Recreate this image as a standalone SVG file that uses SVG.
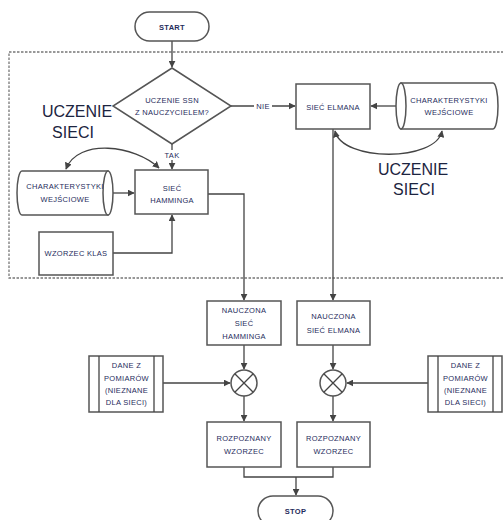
<svg xmlns="http://www.w3.org/2000/svg" width="503" height="520" viewBox="0 0 503 520">
<style>
.bx{fill:#fff;stroke:#555;stroke-width:1.5}
.ln{fill:none;stroke:#444;stroke-width:1.3}
.t{font-family:"Liberation Sans",Arial,sans-serif;font-size:7.5px;fill:#1f2c5c;text-anchor:middle;letter-spacing:0.3px}
.big{font-family:"Liberation Sans",Arial,sans-serif;font-size:16px;fill:#1c2440;text-anchor:middle}
</style>
<defs>
<marker id="ah" viewBox="0 0 10 10" refX="9" refY="5" markerWidth="7" markerHeight="7" markerUnits="userSpaceOnUse" orient="auto-start-reverse">
<path d="M0,0 L10,5 L0,10 Z" fill="#444"/>
</marker>
</defs>
<rect x="9" y="52" width="500" height="226" fill="none" stroke="#777" stroke-width="1.3" stroke-dasharray="2.5,1.5"/>
<g id="connectors">
<path class="ln" d="M172,41 V67" marker-end="url(#ah)"/>
<path class="ln" d="M172,144 V169" marker-end="url(#ah)"/>
<path class="ln" d="M231,106 H295" marker-end="url(#ah)"/>
<path class="ln" d="M403,106 H371" marker-end="url(#ah)"/>
<path class="ln" d="M335,131 C342,162 436,162 442,131" marker-start="url(#ah)" marker-end="url(#ah)"/>
<path class="ln" d="M66,169 C78,138 135,145 159,168" marker-start="url(#ah)" marker-end="url(#ah)"/>
<path class="ln" d="M111,193 H134" marker-end="url(#ah)"/>
<path class="ln" d="M113,253 H172 V215" marker-end="url(#ah)"/>
<path class="ln" d="M208,194 H244 V300" marker-end="url(#ah)"/>
<path class="ln" d="M333,129 V300" marker-end="url(#ah)"/>
<path class="ln" d="M244,345 V369" marker-end="url(#ah)"/>
<path class="ln" d="M333,345 V369" marker-end="url(#ah)"/>
<path class="ln" d="M163,383 H230" marker-end="url(#ah)"/>
<path class="ln" d="M428,383 H347" marker-end="url(#ah)"/>
<path class="ln" d="M244,396 V421" marker-end="url(#ah)"/>
<path class="ln" d="M333,396 V421" marker-end="url(#ah)"/>
<path class="ln" d="M244,467 V477 H333 V467"/>
<path class="ln" d="M296,477 V495" marker-end="url(#ah)"/>
<rect x="254" y="101" width="18" height="10" fill="#fff"/>
<text class="t" x="263" y="108.7">NIE</text>
<rect x="162" y="150" width="20" height="10" fill="#fff"/>
<text class="t" x="172" y="157.7">TAK</text>
</g>
<g id="start">
<rect class="bx" x="135" y="12" width="74" height="29" rx="14.5"/>
<text class="t" x="172" y="29.7" font-weight="bold">START</text>
</g>
<g id="decision">
<path class="bx" d="M172,68 L231,106 L172,144 L113,106 Z"/>
<text class="t" x="172" y="102.7">UCZENIE SSN</text>
<text class="t" x="172" y="114.7">Z NAUCZYCIELEM?</text>
</g>
<g id="label-left">
<text class="big" x="77" y="117">UCZENIE</text>
<text class="big" x="73" y="138">SIECI</text>
</g>
<g id="label-right">
<text class="big" x="413" y="175">UCZENIE</text>
<text class="big" x="414" y="195">SIECI</text>
</g>
<g id="elman">
<rect class="bx" x="296" y="84" width="74" height="45"/>
<text class="t" x="333" y="109.7">SIEĆ ELMANA</text>
</g>
<g id="char-right">
<path class="bx" d="M401,83 H493 A5,23 0 0 1 493,129 H401 Z"/>
<ellipse class="bx" cx="401" cy="106" rx="5" ry="23"/>
<text class="t" x="449" y="102.7">CHARAKTERYSTYKI</text>
<text class="t" x="449" y="114.7">WEJŚCIOWE</text>
</g>
<g id="char-left">
<path class="bx" d="M22,171 H108 V215 H22 A5,22 0 0 1 22,171 Z"/>
<ellipse class="bx" cx="108" cy="193" rx="5" ry="22"/>
<text class="t" x="65" y="188.7">CHARAKTERYSTYKI</text>
<text class="t" x="65" y="201.7">WEJŚCIOWE</text>
</g>
<g id="hamming">
<rect class="bx" x="135" y="170" width="73" height="44"/>
<text class="t" x="172" y="190.7">SIEĆ</text>
<text class="t" x="172" y="202.7">HAMMINGA</text>
</g>
<g id="wzorzec-klas">
<rect class="bx" x="39" y="232" width="74" height="43"/>
<text class="t" x="76" y="255.7">WZORZEC KLAS</text>
</g>
<g id="nauczona-hamming">
<rect class="bx" x="207" y="301" width="74" height="44"/>
<text class="t" x="244" y="312.7">NAUCZONA</text>
<text class="t" x="244" y="325.7">SIEĆ</text>
<text class="t" x="244" y="338.7">HAMMINGA</text>
</g>
<g id="nauczona-elman">
<rect class="bx" x="297" y="301" width="73" height="44"/>
<text class="t" x="333.5" y="318.7">NAUCZONA</text>
<text class="t" x="333.5" y="332.7">SIEĆ ELMANA</text>
</g>
<g id="mix-left">
<circle class="bx" cx="244" cy="383" r="13"/>
<path class="ln" d="M234.8,373.8 L253.2,392.2 M253.2,373.8 L234.8,392.2" stroke="#555"/>
</g>
<g id="mix-right">
<circle class="bx" cx="333" cy="383" r="13"/>
<path class="ln" d="M323.8,373.8 L342.2,392.2 M342.2,373.8 L323.8,392.2" stroke="#555"/>
</g>
<g id="dane-left">
<rect class="bx" x="89" y="356" width="74" height="56"/>
<path class="ln" d="M99,356 V412 M154,356 V412" stroke="#555"/>
<text class="t" x="126.5" y="367.7">DANE Z</text>
<text class="t" x="126.5" y="380.7">POMIARÓW</text>
<text class="t" x="126.5" y="392.7">(NIEZNANE</text>
<text class="t" x="126.5" y="404.7">DLA SIECI)</text>
</g>
<g id="dane-right">
<rect class="bx" x="428" y="356" width="74" height="56"/>
<path class="ln" d="M438,356 V412 M493,356 V412" stroke="#555"/>
<text class="t" x="465.5" y="367.7">DANE Z</text>
<text class="t" x="465.5" y="380.7">POMIARÓW</text>
<text class="t" x="465.5" y="392.7">(NIEZNANE</text>
<text class="t" x="465.5" y="404.7">DLA SIECI)</text>
</g>
<g id="rozpoznany-left">
<rect class="bx" x="207" y="422" width="74" height="45"/>
<text class="t" x="244" y="440.7">ROZPOZNANY</text>
<text class="t" x="244" y="453.7">WZORZEC</text>
</g>
<g id="rozpoznany-right">
<rect class="bx" x="297" y="422" width="73" height="45"/>
<text class="t" x="333.5" y="440.7">ROZPOZNANY</text>
<text class="t" x="333.5" y="453.7">WZORZEC</text>
</g>
<g id="stop">
<rect class="bx" x="258" y="496" width="75" height="30" rx="15"/>
<text class="t" x="295.5" y="513.7" font-weight="bold">STOP</text>
</g>
</svg>
